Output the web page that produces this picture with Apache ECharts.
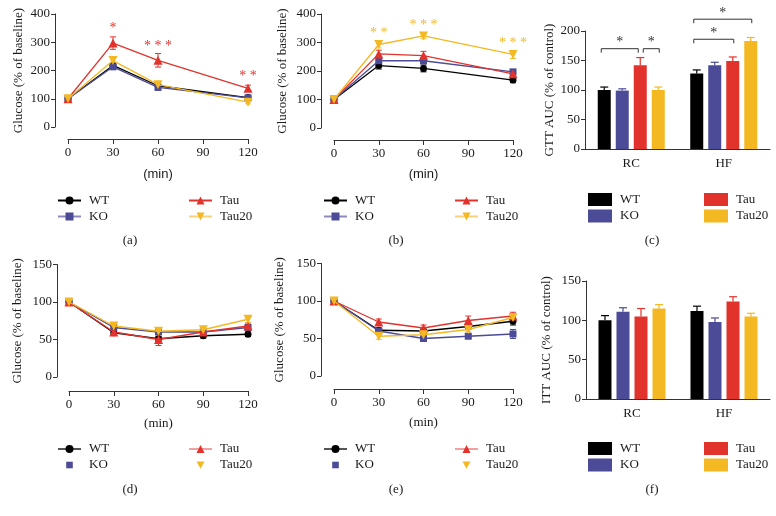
<!DOCTYPE html>
<html><head><meta charset="utf-8">
<script src="https://cdn.jsdelivr.net/npm/echarts@6/dist/echarts.min.js"></script>
<style>html,body{margin:0;padding:0;background:#fff}#c{width:776px;height:516px}</style>
</head><body><div id="c"></div>
<script>
// ---------- DATA ----------
const groups = ['WT', 'KO', 'Tau', 'Tau20'];
const gttTimes = [0, 30, 60, 120];
const ittTimes = [0, 30, 60, 90, 120];
const barCategories = ['RC', 'HF'];

// (a) GTT, RC diet (% of baseline)
const gttRC_WT = [100, 218, 146, 104];      const gttRC_WT_err = [3, 6, 6, 5];
const gttRC_KO = [100, 213, 140, 103];      const gttRC_KO_err = [3, 6, 6, 5];
const gttRC_Tau = [100, 297, 236, 137];     const gttRC_Tau_err = [3, 22, 24, 11];
const gttRC_Tau20 = [100, 235, 150, 88];    const gttRC_Tau20_err = [3, 12, 8, 6];
const sigA_t = [30, 60, 120]; const sigA_y = [351, 287, 181]; const sigA_txt = ['*', '* * *', '* *'];

// (b) GTT, HF diet
const gttHF_WT = [100, 219, 209, 168];      const gttHF_WT_err = [5, 12, 12, 9];
const gttHF_KO = [100, 236, 236, 197];      const gttHF_KO_err = [5, 10, 10, 8];
const gttHF_Tau = [100, 260, 254, 190];     const gttHF_Tau_err = [5, 13, 15, 10];
const gttHF_Tau20 = [100, 293, 323, 258];   const gttHF_Tau20_err = [5, 12, 10, 14];
const sigB_t = [30, 60, 120]; const sigB_y = [333, 361, 298]; const sigB_txt = ['* *', '* * *', '* * *'];

// (c) GTT AUC (% of control)
const gttAuc_WT = [100, 128];   const gttAuc_WT_err = [5, 6];
const gttAuc_KO = [99, 142];    const gttAuc_KO_err = [3, 5];
const gttAuc_Tau = [142, 149];  const gttAuc_Tau_err = [13, 7];
const gttAuc_Tau20 = [100, 183]; const gttAuc_Tau20_err = [5, 6];
const bracket_cat = [0, 0, 1, 1];
const bracket_from = [0, 2, 0, 0];
const bracket_to = [2, 3, 2, 3];
const bracket_y = [170, 170, 186, 220];
const bracket_txt = ['*', '*', '*', '*'];

// (d) ITT, RC diet
const ittRC_WT = [100, 59, 51, 55, 57];     const ittRC_WT_err = [2, 3, 3, 3, 3];
const ittRC_KO = [100, 66, 60, 60, 66];     const ittRC_KO_err = [2, 3, 3, 3, 3];
const ittRC_Tau = [100, 60, 50, 60, 68];    const ittRC_Tau_err = [2, 3, 8, 3, 4];
const ittRC_Tau20 = [100, 68, 61, 63, 77];  const ittRC_Tau20_err = [2, 3, 3, 3, 5];

// (e) ITT, HF diet
const ittHF_WT = [100, 61, 60, 66, 73];     const ittHF_WT_err = [2, 3, 3, 4, 5];
const ittHF_KO = [100, 60, 50, 53, 56];     const ittHF_KO_err = [2, 3, 3, 3, 6];
const ittHF_Tau = [100, 72, 64, 74, 80];    const ittHF_Tau_err = [2, 4, 4, 6, 5];
const ittHF_Tau20 = [100, 53, 55, 62, 78];  const ittHF_Tau20_err = [2, 4, 3, 3, 4];

// (f) ITT AUC (% of control)
const ittAuc_WT = [100, 112];   const ittAuc_WT_err = [6, 6];
const ittAuc_KO = [111, 98];    const ittAuc_KO_err = [5, 5];
const ittAuc_Tau = [105, 124];  const ittAuc_Tau_err = [10, 6];
const ittAuc_Tau20 = [115, 105]; const ittAuc_Tau20_err = [5, 4];

// ---------- STYLE ----------
const SERIF = 'Liberation Serif';
const SANS = 'Liberation Sans';
const AX = '#333';
const TXT = '#1a1a1a';
const colors = ['#000000', '#4b4b97', '#e2322c', '#f4b822'];
const legendLineColors = ['#000000', '#8a8ac0', '#e2322c', '#f7d27a'];
const symbols = ['circle', 'rect', 'triangle', 'path://M0,0L10,0L5,9Z'];
const symbolSizes = [7, 7, 9, 9];
const BAR_W = 13, BAR_STEP = 18;

// ---------- BUILD ----------
const grids = [], xAxes = [], yAxes = [], series = [], legends = [], graphics = [];

function addLinePanel(key, g, times, vals, errs, ymax, yint, xOff, yOff, yNameGap, minFont, minGap) {
  const idx = grids.length;
  grids.push(Object.assign({containLabel: false, outerBoundsMode: 'none'}, g));
  xAxes.push({type: 'value', gridIndex: idx, min: 0, max: 120, interval: 30, offset: xOff,
    axisLine: {show: true, onZero: false, lineStyle: {color: AX}},
    axisTick: {show: true, length: 5, lineStyle: {color: AX}},
    axisLabel: {fontFamily: SERIF, fontSize: 13, color: TXT, margin: 7},
    splitLine: {show: false},
    name: '(min)', nameLocation: 'middle', nameGap: minGap,
    nameTextStyle: {fontFamily: minFont, fontSize: 13, color: TXT}});
  yAxes.push({type: 'value', gridIndex: idx, min: 0, max: ymax, interval: yint, offset: yOff,
    axisLine: {show: true, onZero: false, lineStyle: {color: AX}},
    axisTick: {show: true, length: 4, lineStyle: {color: AX}},
    axisLabel: {fontFamily: SERIF, fontSize: 13, color: TXT, margin: 5},
    splitLine: {show: false},
    name: 'Glucose (% of baseline)', nameLocation: 'middle', nameGap: yNameGap,
    nameTextStyle: {fontFamily: SERIF, fontSize: 13, color: TXT}});
  groups.forEach((gname, k) => {
    series.push({type: 'custom', name: 'err' + key + k, xAxisIndex: idx, yAxisIndex: idx,
      data: times.map((t, i) => [t, vals[k][i], errs[k][i]]), clip: false, silent: true, z: 2,
      renderItem: (params, api) => {
        const x = api.value(0), v = api.value(1), e = api.value(2);
        const p1 = api.coord([x, v + e]), p2 = api.coord([x, v - e]);
        const st = {stroke: colors[k], lineWidth: 1};
        return {type: 'group', children: [
          {type: 'line', shape: {x1: p1[0], y1: p1[1], x2: p2[0], y2: p2[1]}, style: st},
          {type: 'line', shape: {x1: p1[0] - 3, y1: p1[1], x2: p1[0] + 3, y2: p1[1]}, style: st},
          {type: 'line', shape: {x1: p2[0] - 3, y1: p2[1], x2: p2[0] + 3, y2: p2[1]}, style: st}]};
      }});
    series.push({type: 'line', name: gname + '|' + key, xAxisIndex: idx, yAxisIndex: idx,
      data: times.map((t, i) => [t, vals[k][i]]),
      symbol: symbols[k], symbolSize: symbolSizes[k], showSymbol: true,
      lineStyle: {width: 1.3, color: colors[k]}, itemStyle: {color: colors[k]}, z: 3 + k});
  });
  return idx;
}

function addSig(idx, ts, ys, txts, color) {
  series.push({type: 'custom', name: 'sig' + idx, xAxisIndex: idx, yAxisIndex: idx, clip: false, silent: true, z: 10,
    data: ts.map((t, i) => [t, ys[i]]),
    renderItem: (params, api) => {
      const p = api.coord([api.value(0), api.value(1)]);
      return {type: 'text', x: p[0], y: p[1], style: {text: txts[params.dataIndex], fill: color,
        font: '14px ' + SERIF, textAlign: 'center', textVerticalAlign: 'middle'}};
    }});
}

function addBarPanel(key, g, vals, errs, ymax, yname, yNameGap) {
  const idx = grids.length;
  grids.push(Object.assign({containLabel: false, outerBoundsMode: 'none'}, g));
  xAxes.push({type: 'category', gridIndex: idx, data: barCategories,
    axisLine: {show: true, onZero: false, lineStyle: {color: AX}},
    axisTick: {show: false},
    axisLabel: {fontFamily: SERIF, fontSize: 13, color: TXT, margin: 8}});
  yAxes.push({type: 'value', gridIndex: idx, min: 0, max: ymax, interval: 50,
    axisLine: {show: true, onZero: false, lineStyle: {color: AX}},
    axisTick: {show: true, length: 4, lineStyle: {color: AX}},
    axisLabel: {fontFamily: SERIF, fontSize: 13, color: TXT, margin: 5},
    splitLine: {show: false},
    name: yname, nameLocation: 'middle', nameGap: yNameGap,
    nameTextStyle: {fontFamily: SERIF, fontSize: 13, color: TXT}});
  groups.forEach((gname, k) => {
    series.push({type: 'bar', name: gname + '|' + key, xAxisIndex: idx, yAxisIndex: idx,
      data: vals[k], barWidth: BAR_W, barGap: '38.5%', itemStyle: {color: colors[k]}, z: 2});
  });
  groups.forEach((gname, k) => {
    series.push({type: 'custom', name: 'berr' + key + k, xAxisIndex: idx, yAxisIndex: idx, clip: false, silent: true, z: 3,
      data: vals[k].map((v, i) => [i, v, errs[k][i]]),
      renderItem: (params, api) => {
        const c = api.value(0), v = api.value(1), e = api.value(2);
        const b = api.coord([c, v]), t = api.coord([c, v + e]);
        const x = b[0] + (k - 1.5) * BAR_STEP;
        const st = {stroke: colors[k], lineWidth: 1.2};
        return {type: 'group', children: [
          {type: 'line', shape: {x1: x, y1: b[1], x2: x, y2: t[1]}, style: st},
          {type: 'line', shape: {x1: x - 4, y1: t[1], x2: x + 4, y2: t[1]}, style: st}]};
      }});
  });
  return idx;
}

function addLegends(key, x1, x2, top, iconMode) {
  const base = {orient: 'vertical', top: top, itemGap: 3, padding: 0, selectedMode: false,
    formatter: n => n.split('|')[0],
    textStyle: {fontFamily: SERIF, fontSize: 13, color: TXT, padding: [0, 0, 0, 3]}};
  let items;
  if (iconMode === 'bar') {
    items = groups.map(g => ({name: g + '|' + key, icon: 'rect'}));
    legends.push(Object.assign({}, base, {left: x1, itemWidth: 24, itemHeight: 13, itemGap: 3.5, data: items.slice(0, 2)}));
    legends.push(Object.assign({}, base, {left: x2, itemWidth: 24, itemHeight: 13, itemGap: 3.5, data: items.slice(2)}));
    return;
  }
  items = groups.map((g, k) => ({name: g + '|' + key, lineStyle: {color: legendLineColors[k]}}));
  if (iconMode === 'itt') {
    items[0].lineStyle = {color: '#555'};
    items[1] = {name: 'KO|' + key, icon: 'path://M0,0M10,10M1.7,1.7L8.3,1.7L8.3,8.3L1.7,8.3Z'};
    items[2].lineStyle = {color: '#f2a0a0'};
    items[3] = {name: 'Tau20|' + key, icon: 'path://M0,0M10,10M1,1.5L9,1.5L5,8.7Z'};
  }
  legends.push(Object.assign({}, base, {left: x1, itemWidth: 23, itemHeight: 10, data: items.slice(0, 2)}));
  legends.push(Object.assign({}, base, {left: x2, itemWidth: 23, itemHeight: 10, data: items.slice(2)}));
}

function panelLabel(txt, x, y) {
  graphics.push({type: 'text', x: x, y: y, style: {text: txt, font: '13px ' + SERIF, fill: TXT,
    textAlign: 'center', textVerticalAlign: 'middle'}});
}

// (a)
const ia = addLinePanel('a', {left: 68, width: 180, top: 14, height: 113},
  gttTimes, [gttRC_WT, gttRC_KO, gttRC_Tau, gttRC_Tau20],
  [gttRC_WT_err, gttRC_KO_err, gttRC_Tau_err, gttRC_Tau20_err], 400, 100, 12, 13, 30, SANS, 29);
addSig(ia, sigA_t, sigA_y, sigA_txt, colors[2]);
// (b)
const ib = addLinePanel('b', {left: 334, width: 179, top: 14, height: 114},
  gttTimes, [gttHF_WT, gttHF_KO, gttHF_Tau, gttHF_Tau20],
  [gttHF_WT_err, gttHF_KO_err, gttHF_Tau_err, gttHF_Tau20_err], 400, 100, 12, 13, 32, SANS, 28);
addSig(ib, sigB_t, sigB_y, sigB_txt, colors[3]);
// (c)
const ic = addBarPanel('c', {left: 585, width: 185, top: 31, height: 118},
  [gttAuc_WT, gttAuc_KO, gttAuc_Tau, gttAuc_Tau20],
  [gttAuc_WT_err, gttAuc_KO_err, gttAuc_Tau_err, gttAuc_Tau20_err], 200, 'GTT AUC (% of control)', 29);
series.push({type: 'custom', name: 'brackets', xAxisIndex: ic, yAxisIndex: ic, clip: false, silent: true, z: 5,
  data: bracket_cat.map((c, i) => [c, bracket_y[i]]),
  renderItem: (params, api) => {
    const i = params.dataIndex;
    const p = api.coord([api.value(0), api.value(1)]);
    const cx = j => p[0] + (j - 1.5) * BAR_STEP;
    const sharedStart = bracket_to.some((t, m) => m !== i && t === bracket_from[i] && bracket_cat[m] === bracket_cat[i] && bracket_y[m] === bracket_y[i]);
    const sharedEnd = bracket_from.some((f, m) => m !== i && f === bracket_to[i] && bracket_cat[m] === bracket_cat[i] && bracket_y[m] === bracket_y[i]);
    const x1 = cx(bracket_from[i]) + (sharedStart ? 3 : -3);
    const x2 = cx(bracket_to[i]) + (sharedEnd ? -2 : 1);
    const y = p[1];
    const st = {stroke: '#333', lineWidth: 1};
    return {type: 'group', children: [
      {type: 'polyline', shape: {points: [[x1, y + 4], [x1, y], [x2, y], [x2, y + 4]]}, style: Object.assign({fill: null}, st)},
      {type: 'text', x: (x1 + x2) / 2, y: y - 6, style: {text: bracket_txt[i], fill: '#333', font: '14px ' + SERIF,
        textAlign: 'center', textVerticalAlign: 'middle'}}]};
  }});
// (d)
addLinePanel('d', {left: 69, width: 179, top: 264.5, height: 112.5},
  ittTimes, [ittRC_WT, ittRC_KO, ittRC_Tau, ittRC_Tau20],
  [ittRC_WT_err, ittRC_KO_err, ittRC_Tau_err, ittRC_Tau20_err], 150, 50, 14, 12, 33, SERIF, 26);
// (e)
addLinePanel('e', {left: 334, width: 179, top: 263.5, height: 112.5},
  ittTimes, [ittHF_WT, ittHF_KO, ittHF_Tau, ittHF_Tau20],
  [ittHF_WT_err, ittHF_KO_err, ittHF_Tau_err, ittHF_Tau20_err], 150, 50, 13, 13, 35, SERIF, 27);
// (f)
addBarPanel('f', {left: 586, width: 184, top: 281, height: 118},
  [ittAuc_WT, ittAuc_KO, ittAuc_Tau, ittAuc_Tau20],
  [ittAuc_WT_err, ittAuc_KO_err, ittAuc_Tau_err, ittAuc_Tau20_err], 150, 'ITT AUC (% of control)', 33);

addLegends('a', 57, 188, 194, 'gtt');
addLegends('b', 323, 454, 194, 'gtt');
addLegends('c', 588, 704, 193, 'bar');
addLegends('d', 57, 188, 442.5, 'itt');
addLegends('e', 323, 454, 442.5, 'itt');
addLegends('f', 588, 704, 442, 'bar');

panelLabel('(a)', 130, 241);
panelLabel('(b)', 396, 241);
panelLabel('(c)', 652, 241);
panelLabel('(d)', 130, 490);
panelLabel('(e)', 396, 490);
panelLabel('(f)', 652, 490);

const chart = echarts.init(document.getElementById('c'), null, {renderer: 'canvas', width: 776, height: 516});
chart.setOption({
  animation: false,
  backgroundColor: '#ffffff',
  grid: grids, xAxis: xAxes, yAxis: yAxes, series: series, legend: legends,
  graphic: {elements: graphics}
});
</script></body></html>
